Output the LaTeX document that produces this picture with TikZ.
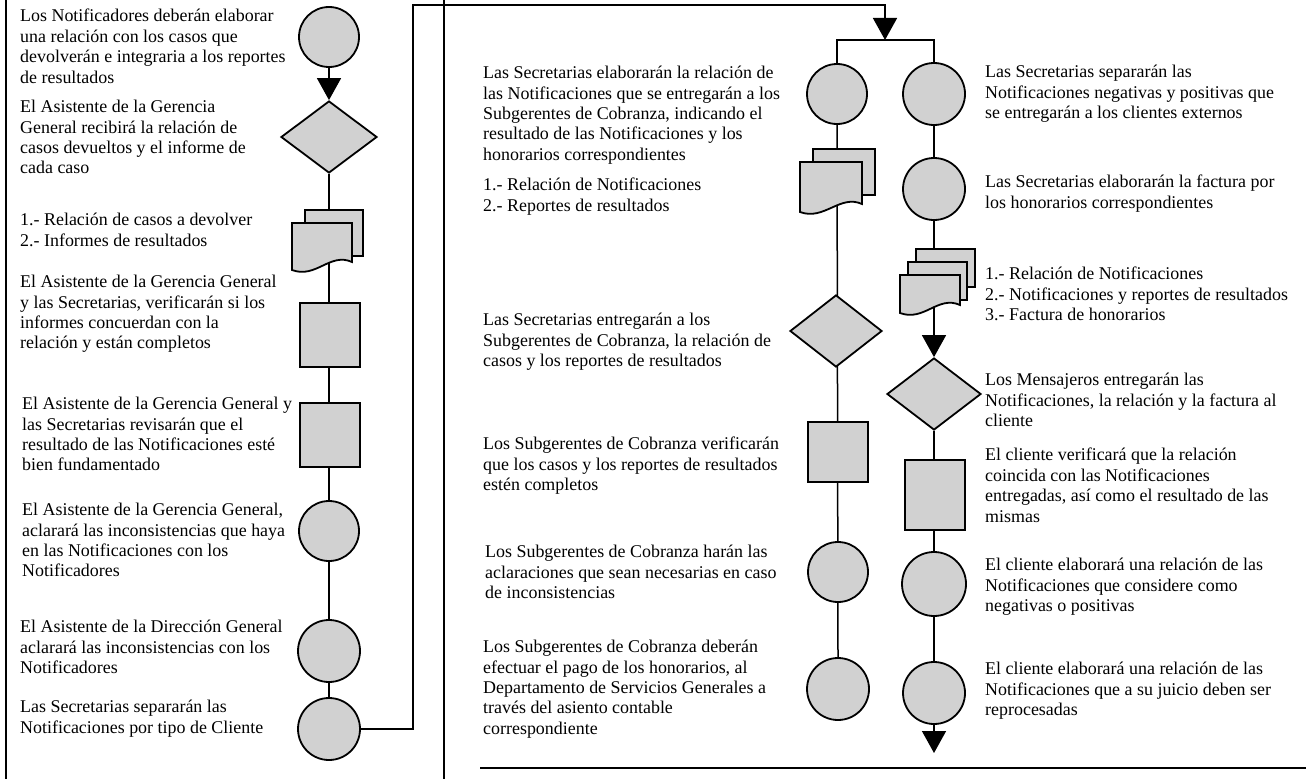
\documentclass[tikz,border=0pt]{standalone}
\usepackage{fontspec}
\setmainfont{Liberation Serif}
\usetikzlibrary{arrows.meta,shapes.geometric,calc,backgrounds}

\definecolor{shade}{gray}{0.82}

\tikzset{
  flow/.style={line width=1.5bp},
  frameline/.style={line width=1.5bp},
  shapeline/.style={draw, line width=1.8bp, fill=shade},
  proc/.style={shapeline, circle, minimum size=#1, inner sep=0pt},
  proc/.default=60bp,
  decis/.style={shapeline, diamond, minimum width=96bp, minimum height=72bp, inner sep=0pt},
  insp/.style={shapeline, rectangle, minimum width=60bp, minimum height=#1, inner sep=0pt},
  insp/.default=64bp,
  note/.style={anchor=north west, align=left, inner sep=0pt,
    font=\fontsize{18}{20.5}\selectfont},
  arr/.style={-{Triangle[width=24bp,length=22bp]}},
  holder/.style={inner sep=0pt, draw=none},
}

% one sheet of a document symbol: top-left (#1,#2), bottom-right (#3,#4), wavy foot
\newcommand\sheet[4]{%
  \filldraw[shapeline] (#1,#2) -- (#3,#2) -- (#3,#4-8)
    .. controls (#3-22,#4-18) and (#1+24,#4+9) .. (#1,#4) -- cycle;
}
\newcommand\backsheet[4]{%
  \filldraw[shapeline] (#1,#2) rectangle (#3,#4);
}

\begin{document}
\begin{tikzpicture}[x=1bp,y=-1bp]
\useasboundingbox (0,0) rectangle (1306,779);

% ---------- frame ----------
\draw[frameline] (6,0) -- (6,779);
\draw[frameline] (444,0) -- (444,779);
\draw[frameline] (480,768) -- (1306,768);

% ---------- first column ----------
\node[proc] (L1) at (329,37) {};
\node[decis] (L2) at (329,137) {};
\node[holder, minimum width=71bp, minimum height=59bp] (L3) at (328.5,239.5) {};
\begin{scope}[shift={(328,239)}]
  \backsheet{-23}{-29}{35}{17}
  \sheet{-36}{-16}{24}{31}
\end{scope}
\node[insp] (L4) at (330,335) {};
\node[insp] (L5) at (330,435) {};
\node[proc] (L6) at (329,531) {};
\node[proc=62bp] (L7) at (329,651) {};
\node[proc=62bp] (L8) at (329,729) {};

% ---------- second column ----------
\node[proc] (M1) at (837,94) {};
\node[holder, minimum width=75bp, minimum height=62bp] (M2) at (837.5,180) {};
\begin{scope}[shift={(836,179)}]
  \backsheet{-23}{-30}{39}{16}
  \sheet{-36}{-17}{26}{33}
\end{scope}
\node[decis, minimum width=92bp] (M3) at (836,331) {};
\node[insp, minimum height=60bp] (M4) at (838,452) {};
\node[proc] (M5) at (838,572) {};
\node[proc=62bp] (M6) at (838,689) {};

% ---------- third column ----------
\node[proc=62bp] (R1) at (934,94) {};
\node[proc=62bp] (R2) at (934,189) {};
\node[holder, minimum width=76bp, minimum height=64bp] (R3) at (934,281) {};
\begin{scope}[shift={(934,281)}]
  \backsheet{-18}{-32}{41}{6}
  \backsheet{-26}{-19}{33}{19}
  \sheet{-34}{-6}{26}{32}
\end{scope}
\node[decis, minimum width=94bp] (R4) at (934,394) {};
\node[insp, minimum height=70bp] (R5) at (935,495) {};
\node[proc=64bp] (R6) at (934,584) {};
\node[proc=62bp] (R7) at (934,693) {};
\coordinate (Rend) at (934,753);

% ---------- connectors ----------
\coordinate (up) at (413,5);
\coordinate (split) at (885,40);
\begin{scope}[on background layer]
  \draw[flow] (L2.south) -- (L8.north);
  \draw[flow] (M1.south) -- (M6.north);
  \draw[flow] (R1.south) -- (R3.center);
  \draw[flow, arr] (R3.center) -- (R4.north);
  \draw[flow] (R4.south) -- (R7.north);
\end{scope}
\draw[flow, arr] (L1.south) -- (L2.north);
\draw[flow, arr] (L8.east) -| (up) -| (split);
\draw[flow] (M1.north) |- (split) -| (R1.north);
\draw[flow, arr] (R7.south) -- (Rend);

% ---------- descriptions ----------
\node[note] (t1) at (20,9) {Los Notificadores deberán elaborar\\una relación con los casos que\\devolverán e integraria a los reportes\\de resultados};
\node[note] (t2) at (20,100) {El Asistente de la Gerencia\\General recibirá la relación de\\casos devueltos y el informe de\\cada caso};
\node[note] (t3) at (20,213) {1.- Relación de casos a devolver\\2.- Informes de resultados};
\node[note] (t4) at (20,275) {El Asistente de la Gerencia General\\y las Secretarias, verificarán si los\\informes concuerdan con la\\relación y están completos};
\node[note] (t5) at (22,397) {El Asistente de la Gerencia General y\\las Secretarias revisarán que el\\resultado de las Notificaciones esté\\bien fundamentado};
\node[note] (t6) at (22,503) {El Asistente de la Gerencia General,\\aclarará las inconsistencias que haya\\en las Notificaciones con los\\Notificadores};
\node[note] (t7) at (20,620) {El Asistente de la Dirección General\\aclarará las inconsistencias con los\\Notificadores};
\node[note] (t8) at (20,700) {Las Secretarias separarán las\\Notificaciones por tipo de Cliente};

\node[note] (m1) at (483,66) {Las Secretarias elaborarán la relación de\\las Notificaciones que se entregarán a los\\Subgerentes de Cobranza, indicando el\\resultado de las Notificaciones y los\\honorarios correspondientes};
\node[note] (m2) at (483,178) {1.- Relación de Notificaciones\\2.- Reportes de resultados};
\node[note] (m3) at (483,313) {Las Secretarias entregarán a los\\Subgerentes de Cobranza, la relación de\\casos y los reportes de resultados};
\node[note] (m4) at (483,437) {Los Subgerentes de Cobranza verificarán\\que los casos y los reportes de resultados\\estén completos};
\node[note] (m5) at (485,545) {Los Subgerentes de Cobranza harán las\\aclaraciones que sean necesarias en caso\\de inconsistencias};
\node[note] (m6) at (483,640) {Los Subgerentes de Cobranza deberán\\efectuar el pago de los honorarios, al\\Departamento de Servicios Generales a\\través del asiento contable\\correspondiente};

\node[note] (r1) at (985,65) {Las Secretarias separarán las\\Notificaciones negativas y positivas que\\se entregarán a los clientes externos};
\node[note] (r2) at (985,175) {Las Secretarias elaborarán la factura por\\los honorarios correspondientes};
\node[note] (r3) at (985,267) {1.- Relación de Notificaciones\\2.- Notificaciones y reportes de resultados\\3.- Factura de honorarios};
\node[note] (r4) at (985,373) {Los Mensajeros entregarán las\\Notificaciones, la relación y la factura al\\cliente};
\node[note] (r5) at (985,448) {El cliente verificará que la relación\\coincida con las Notificaciones\\entregadas, así como el resultado de las\\mismas};
\node[note] (r6) at (985,558) {El cliente elaborará una relación de las\\Notificaciones que considere como\\negativas o positivas};
\node[note] (r7) at (985,662) {El cliente elaborará una relación de las\\Notificaciones que a su juicio deben ser\\reprocesadas};
\end{tikzpicture}
\end{document}
